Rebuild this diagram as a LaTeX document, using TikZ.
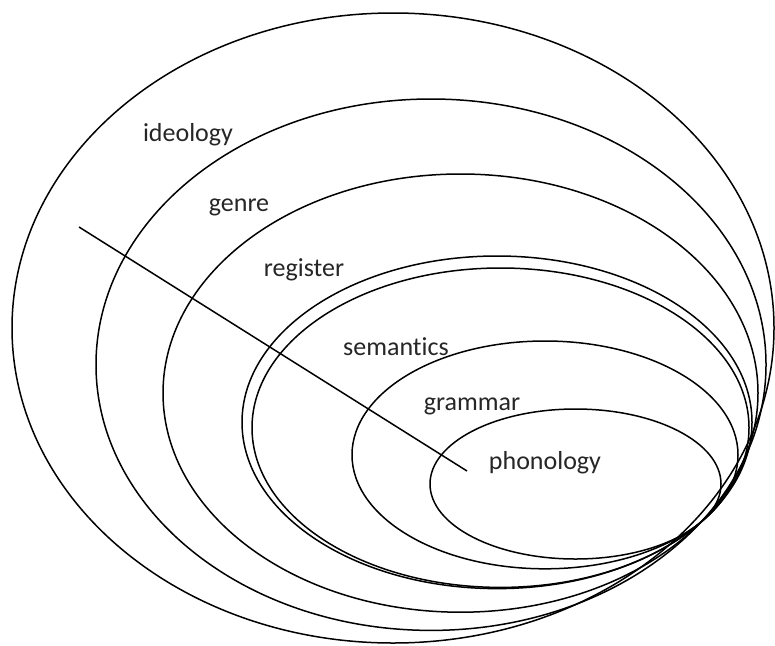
\documentclass[tikz,border=0pt]{standalone}
\usepackage{fontspec}
\setmainfont[Ligatures=NoCommon]{Carlito}
\begin{document}
\begin{tikzpicture}[x=1pt,y=-1pt]
\tikzset{
  ring/.style={draw=black, line width=1.5pt},
  lbl/.style={font=\fontsize{26}{30}\selectfont, text=black!85, inner sep=0pt}
}
\useasboundingbox[fill=white] (0,0) rectangle (775,645);
% ellipses (all meeting near the lower right)
\draw[ring] (393,328) ellipse [x radius=381pt, y radius=315pt];
\draw[ring] (431,364.7) ellipse [x radius=335pt, y radius=265.7pt];
\draw[ring] (460.5,393.1) ellipse [x radius=297.5pt, y radius=219.1pt];
\draw[ring] (497,422.3) ellipse [x radius=255pt, y radius=166.3pt];
\draw[ring] (500.5,427.7) ellipse [x radius=248.5pt, y radius=159.7pt];
\draw[ring] (545,454.9) ellipse [x radius=193pt, y radius=113.9pt];
\draw[ring] (575.5,484) ellipse [x radius=145.5pt, y radius=75pt];
% labels
\node[lbl] (ideology) at (188,135) {ideology};
\node[lbl] (genre) at (239,207) {genre};
\node[lbl] (register) at (304,270) {register};
\node[lbl] (semantics) at (396,347) {semantics};
\node[lbl] (grammar) at (472,406) {grammar};
\node[lbl] (phonology) at (545,463) {phonology};
% diagonal line
\coordinate (lineA) at (79,227);
\coordinate (lineB) at (467,471);
\draw[ring] (lineA) -- (lineB);
\end{tikzpicture}
\end{document}
